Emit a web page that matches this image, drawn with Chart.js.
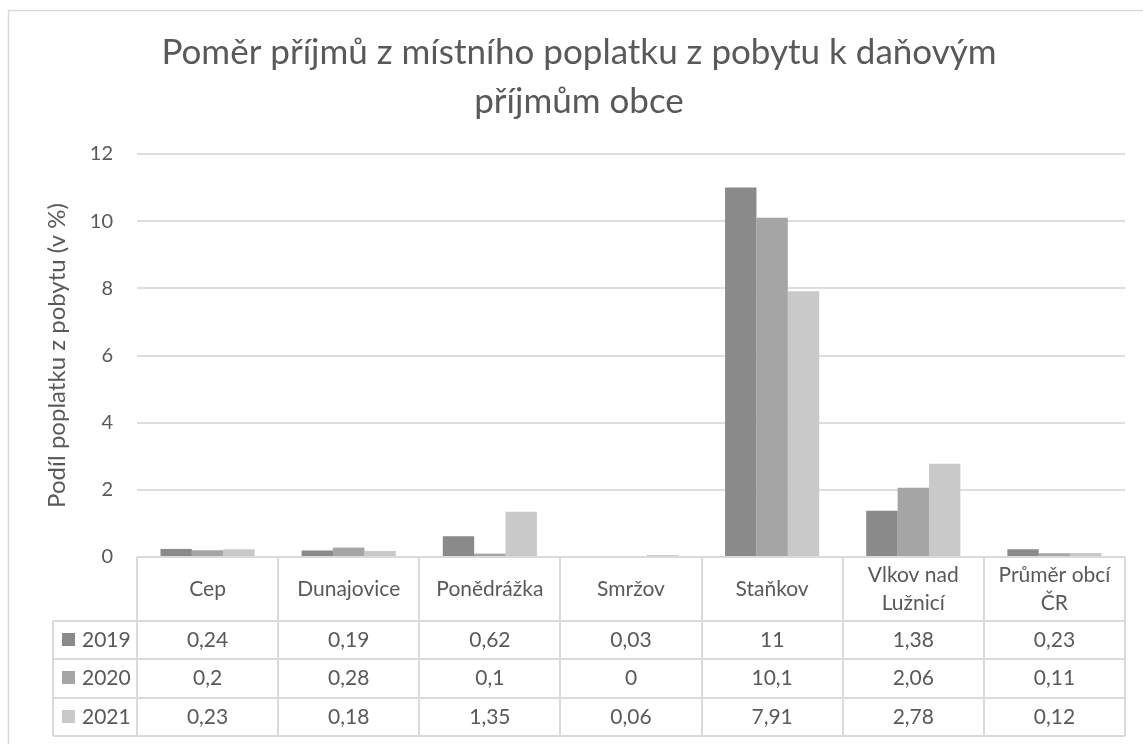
<!DOCTYPE html>
<html>
<head>
<meta charset="utf-8">
<script src="https://cdn.jsdelivr.net/npm/chart.js@4.4.1/dist/chart.umd.min.js"></script>
<style>
  html, body { margin: 0; padding: 0; background: #fff; }
  #wrap { width: 1143px; height: 744px; }
</style>
</head>
<body>
<div id="wrap"><canvas id="chart" width="1143" height="744"></canvas></div>
<script>
// data
const categories = ['Cep', 'Dunajovice', 'Ponědrážka', 'Smržov', 'Staňkov', ['Vlkov nad', 'Lužnicí'], ['Průměr obcí', 'ČR']];
const years = ['2019', '2020', '2021'];
const values2019 = [0.24, 0.19, 0.62, 0.03, 11, 1.38, 0.23];
const values2020 = [0.2, 0.28, 0.1, 0, 10.1, 2.06, 0.11];
const values2021 = [0.23, 0.18, 1.35, 0.06, 7.91, 2.78, 0.12];
const yTicks = [0, 2, 4, 6, 8, 10, 12];

const colors = ['#8a8a8a', '#a5a5a5', '#c9c9c9'];
const textColor = '#595959';
const lineColor = '#dadada';
const fontFamily = 'Lato, "Open Sans", sans-serif';

const fmt = v => String(v).replace('.', ',');

// Excel-like data table under the plot
const dataTable = {
    id: 'dataTable',
    beforeDraw(chart) {
        const ctx = chart.ctx;
        ctx.save();
        ctx.fillStyle = '#fff';
        ctx.fillRect(0, 0, chart.width, chart.height);
        ctx.strokeStyle = '#d9d9d9';
        ctx.lineWidth = 1.5;
        ctx.strokeRect(8.5, 10.5, 1150, 800);
        ctx.restore();
    },
    afterDatasetsDraw(chart) {
        const ctx = chart.ctx;
        const x = chart.scales.x;
        const area = chart.chartArea;
        const n = categories.length;
        const cellW = (x.right - x.left) / n;
        const top = area.bottom;
        const headerH = 64;
        const rowH = 38.3;
        const legendLeft = 53;
        const rowsTop = top + headerH;
        const bottom = rowsTop + rowH * years.length;

        ctx.save();
        ctx.strokeStyle = lineColor;
        ctx.lineWidth = 2;
        ctx.beginPath();
        // horizontal lines
        ctx.moveTo(x.left, top);
        ctx.lineTo(x.right, top);
        for (let r = 0; r <= years.length; r++) {
            const y = Math.round(rowsTop + r * rowH);
            ctx.moveTo(legendLeft, y);
            ctx.lineTo(x.right, y);
        }
        // vertical lines
        for (let i = 0; i <= n; i++) {
            const xx = Math.round(x.left + i * cellW);
            ctx.moveTo(xx, top);
            ctx.lineTo(xx, bottom);
        }
        ctx.moveTo(legendLeft, rowsTop);
        ctx.lineTo(legendLeft, bottom);
        ctx.stroke();

        ctx.fillStyle = textColor;
        ctx.textAlign = 'center';
        ctx.textBaseline = 'middle';
        ctx.font = '21px ' + fontFamily;

        // header labels
        categories.forEach((label, i) => {
            const cx = x.getPixelForValue(i);
            const lines = Array.isArray(label) ? label : [label];
            const lh = 28;
            const startY = top + headerH / 2 - (lines.length - 1) * lh / 2;
            lines.forEach((line, j) => ctx.fillText(line, cx, startY + j * lh));
        });

        // value rows
        const series = [values2019, values2020, values2021];
        series.forEach((vals, r) => {
            const cy = rowsTop + r * rowH + rowH / 2;
            vals.forEach((v, i) => {
                ctx.fillText(fmt(v), x.getPixelForValue(i), cy);
            });
            // legend key
            ctx.fillStyle = colors[r];
            ctx.fillRect(62, Math.round(cy - 7), 13, 13);
            ctx.fillStyle = textColor;
            ctx.textAlign = 'left';
            ctx.fillText(years[r], 82, cy);
            ctx.textAlign = 'center';
        });
        ctx.restore();
    }
};

new Chart(document.getElementById('chart'), {
    type: 'bar',
    data: {
        labels: categories,
        datasets: [
            { label: years[0], data: values2019, backgroundColor: colors[0] },
            { label: years[1], data: values2020, backgroundColor: colors[1] },
            { label: years[2], data: values2021, backgroundColor: colors[2] },
        ],
    },
    options: {
        responsive: false,
        animation: false,
        layout: {
            padding: { left: 33, right: 18, top: 0, bottom: 187 }
        },
        datasets: {
            bar: { categoryPercentage: 0.667, barPercentage: 1.0 }
        },
        scales: {
            x: {
                display: false,
            },
            y: {
                min: 0,
                max: 12,
                afterBuildTicks(scale) {
                    scale.ticks = yTicks.map(v => ({ value: v }));
                },
                afterFit(scale) {
                    scale.width = 104;
                },
                border: { display: false },
                grid: { color: '#dedede', lineWidth: 2, drawTicks: false },
                ticks: {
                    padding: 24,
                    color: textColor,
                    font: { family: fontFamily, size: 20 },
                },
                title: {
                    display: true,
                    text: 'Podíl poplatku z pobytu (v %)',
                    color: textColor,
                    font: { family: fontFamily, size: 24 },
                    padding: { top: 10, bottom: 0 },
                },
            },
        },
        plugins: {
            legend: { display: false },
            tooltip: { enabled: false },
            title: {
                display: true,
                text: ['Poměr příjmů z místního poplatku z pobytu k daňovým', 'příjmům obce'],
                color: textColor,
                font: { family: fontFamily, size: 35, weight: 'normal', lineHeight: 1.4 },
                padding: { top: 28.5, bottom: 27.5 },
            },
        },
    },
    plugins: [dataTable],
});
</script>
</body>
</html>
